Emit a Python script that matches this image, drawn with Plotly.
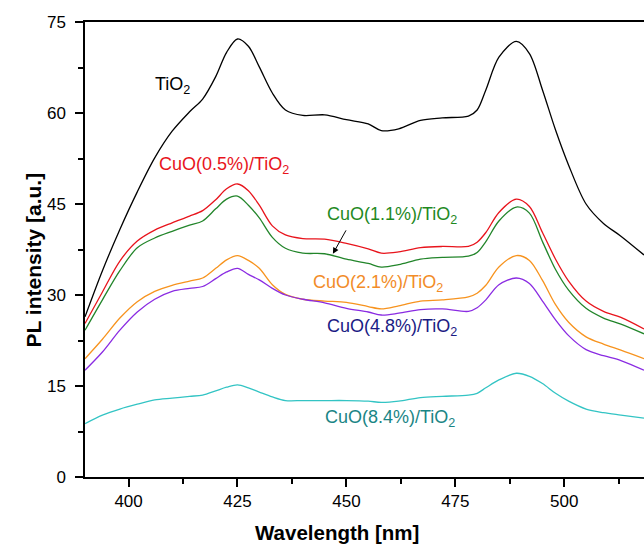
import plotly.graph_objects as go

wavelength = [390, 394, 398, 402, 406, 410, 414, 417, 420, 422.5, 425, 427.5, 430, 433, 436,
              440, 445, 450, 455, 458, 462, 467, 472, 478, 480, 482, 485, 489, 492, 495,
              498, 501, 505, 509, 513, 518.3]

tio2 = [26.4, 34.0, 40.8, 47.0, 52.6, 57.0, 60.2, 62.3, 66.0, 70.0, 72.2, 71.0, 67.6, 63.3, 60.5,
        59.6, 59.7, 58.9, 58.2, 57.1, 57.4, 58.8, 59.2, 59.5, 60.5, 63.8, 69.2, 71.8, 69.8, 63.8,
        57.2, 51.4, 45.0, 41.8, 39.7, 36.6]
cuo_05 = [25.3, 30.5, 35.6, 38.9, 40.7, 41.9, 43.0, 43.9, 45.7, 47.5, 48.3, 47.2, 44.8, 41.4, 39.9,
          39.3, 39.2, 38.5, 37.6, 36.9, 37.1, 37.8, 38.0, 38.0, 38.7, 40.3, 43.6, 45.8, 44.6, 40.3,
          35.9, 32.3, 29.0, 27.3, 26.3, 24.4]
cuo_11 = [24.2, 29.2, 34.0, 37.8, 39.4, 40.5, 41.5, 42.2, 44.2, 45.8, 46.3, 44.8, 42.7, 39.5, 37.7,
          36.9, 36.8, 35.9, 35.2, 34.6, 35.0, 35.9, 36.2, 36.4, 37.0, 38.8, 42.2, 44.5, 43.5, 38.8,
          34.2, 30.8, 27.8, 26.2, 25.2, 23.6]
cuo_21 = [19.5, 22.7, 26.2, 28.9, 30.6, 31.6, 32.3, 32.8, 34.4, 35.8, 36.5, 35.7, 34.4, 31.7, 30.1,
          29.3, 29.0, 28.8, 28.1, 27.7, 28.2, 29.0, 29.2, 29.7, 30.3, 31.6, 34.6, 36.5, 35.7, 32.4,
          28.4, 25.5, 23.1, 21.9, 20.9, 19.5]
cuo_48 = [17.6, 20.6, 24.2, 27.2, 29.3, 30.6, 31.1, 31.4, 32.7, 33.8, 34.4, 33.4, 32.5, 31.1, 30.0,
          29.3, 28.7, 27.8, 27.2, 26.7, 27.0, 27.6, 27.7, 27.3, 27.9, 29.2, 31.7, 32.8, 31.9, 29.0,
          25.9, 23.3, 21.0, 20.0, 19.2, 17.6]
cuo_84 = [8.8, 10.2, 11.2, 12.0, 12.7, 13.0, 13.3, 13.5, 14.2, 14.8, 15.2, 14.7, 14.0, 13.2, 12.6,
          12.6, 12.6, 12.6, 12.5, 12.3, 12.5, 13.1, 13.3, 13.5, 13.8, 14.7, 16.0, 17.1, 16.6, 15.4,
          13.8, 12.5, 11.2, 10.6, 10.2, 9.7]

series = [
    (tio2, "#000000"),
    (cuo_05, "#e8141c"),
    (cuo_11, "#22852a"),
    (cuo_21, "#f7931e"),
    (cuo_48, "#8a2be2"),
    (cuo_84, "#33c4c4"),
]

fig = go.Figure()
for ys, col in series:
    fig.add_trace(go.Scatter(x=wavelength, y=ys, mode="lines",
                             line=dict(color=col, width=1.3, shape="spline", smoothing=0.9),
                             showlegend=False, hoverinfo="skip"))

FONT = "Liberation Sans, Arial, sans-serif"
labels = [
    ("TiO<sub>2</sub>", 410.0, 64.5, "#000000"),
    ("CuO(0.5%)/TiO<sub>2</sub>", 422.0, 51.3, "#e8141c"),
    ("CuO(1.1%)/TiO<sub>2</sub>", 460.5, 43.1, "#1f8a1f"),
    ("CuO(2.1%)/TiO<sub>2</sub>", 457.2, 31.9, "#f28c28"),
    ("CuO(4.8%)/TiO<sub>2</sub>", 460.4, 24.7, "#1b1b84"),
    ("CuO(8.4%)/TiO<sub>2</sub>", 460.0, 9.7, "#1a8585"),
]
for txt, x, y, col in labels:
    fig.add_annotation(x=x, y=y, text=txt, showarrow=False,
                       font=dict(family=FONT, size=18, color=col),
                       xanchor="center", yanchor="middle")

fig.add_annotation(x=446.9, y=36.8, ax=450.1, ay=40.9, axref="x", ayref="y",
                   text="", showarrow=True, arrowhead=2, arrowsize=1.2,
                   arrowwidth=1, arrowcolor="#000000")

fig.add_annotation(xref="paper", yref="paper", x=0.451, y=-0.1215, text="<b>Wavelength [nm]</b>",
                   showarrow=False, font=dict(family=FONT, size=20.5, color="#000"),
                   xanchor="center", yanchor="middle")
fig.add_annotation(xref="paper", yref="paper", x=-0.093, y=0.476, text="<b>PL intensity [a.u.]</b>",
                   showarrow=False, textangle=-90, font=dict(family=FONT, size=21, color="#000"),
                   xanchor="center", yanchor="middle")

fig.update_xaxes(range=[390, 518.3], tickvals=[400, 425, 450, 475, 500],
                 ticks="outside", ticklen=8, tickwidth=1.5, tickcolor="#000",
                 minor=dict(dtick=12.5, tick0=400, ticks="outside", ticklen=5, tickwidth=1.5, tickcolor="#000"),
                 showline=True, linecolor="#000", linewidth=1.5, mirror=True,
                 showgrid=False, zeroline=False, ticklabelstandoff=0,
                 tickfont=dict(family=FONT, size=17, color="#000"))
fig.update_yaxes(range=[0, 75], tickvals=[0, 15, 30, 45, 60, 75],
                 ticks="outside", ticklen=8, tickwidth=1.5, tickcolor="#000",
                 minor=dict(dtick=7.5, tick0=0, ticks="outside", ticklen=5, tickwidth=1.5, tickcolor="#000"),
                 showline=True, linecolor="#000", linewidth=1.5,
                 showgrid=False, zeroline=False, ticklabelstandoff=6,
                 tickfont=dict(family=FONT, size=17, color="#000"))

fig.update_layout(width=644, height=545, margin=dict(l=85, r=0, t=22, b=68),
                  plot_bgcolor="white", paper_bgcolor="white")

fig.write_html("out.html")
